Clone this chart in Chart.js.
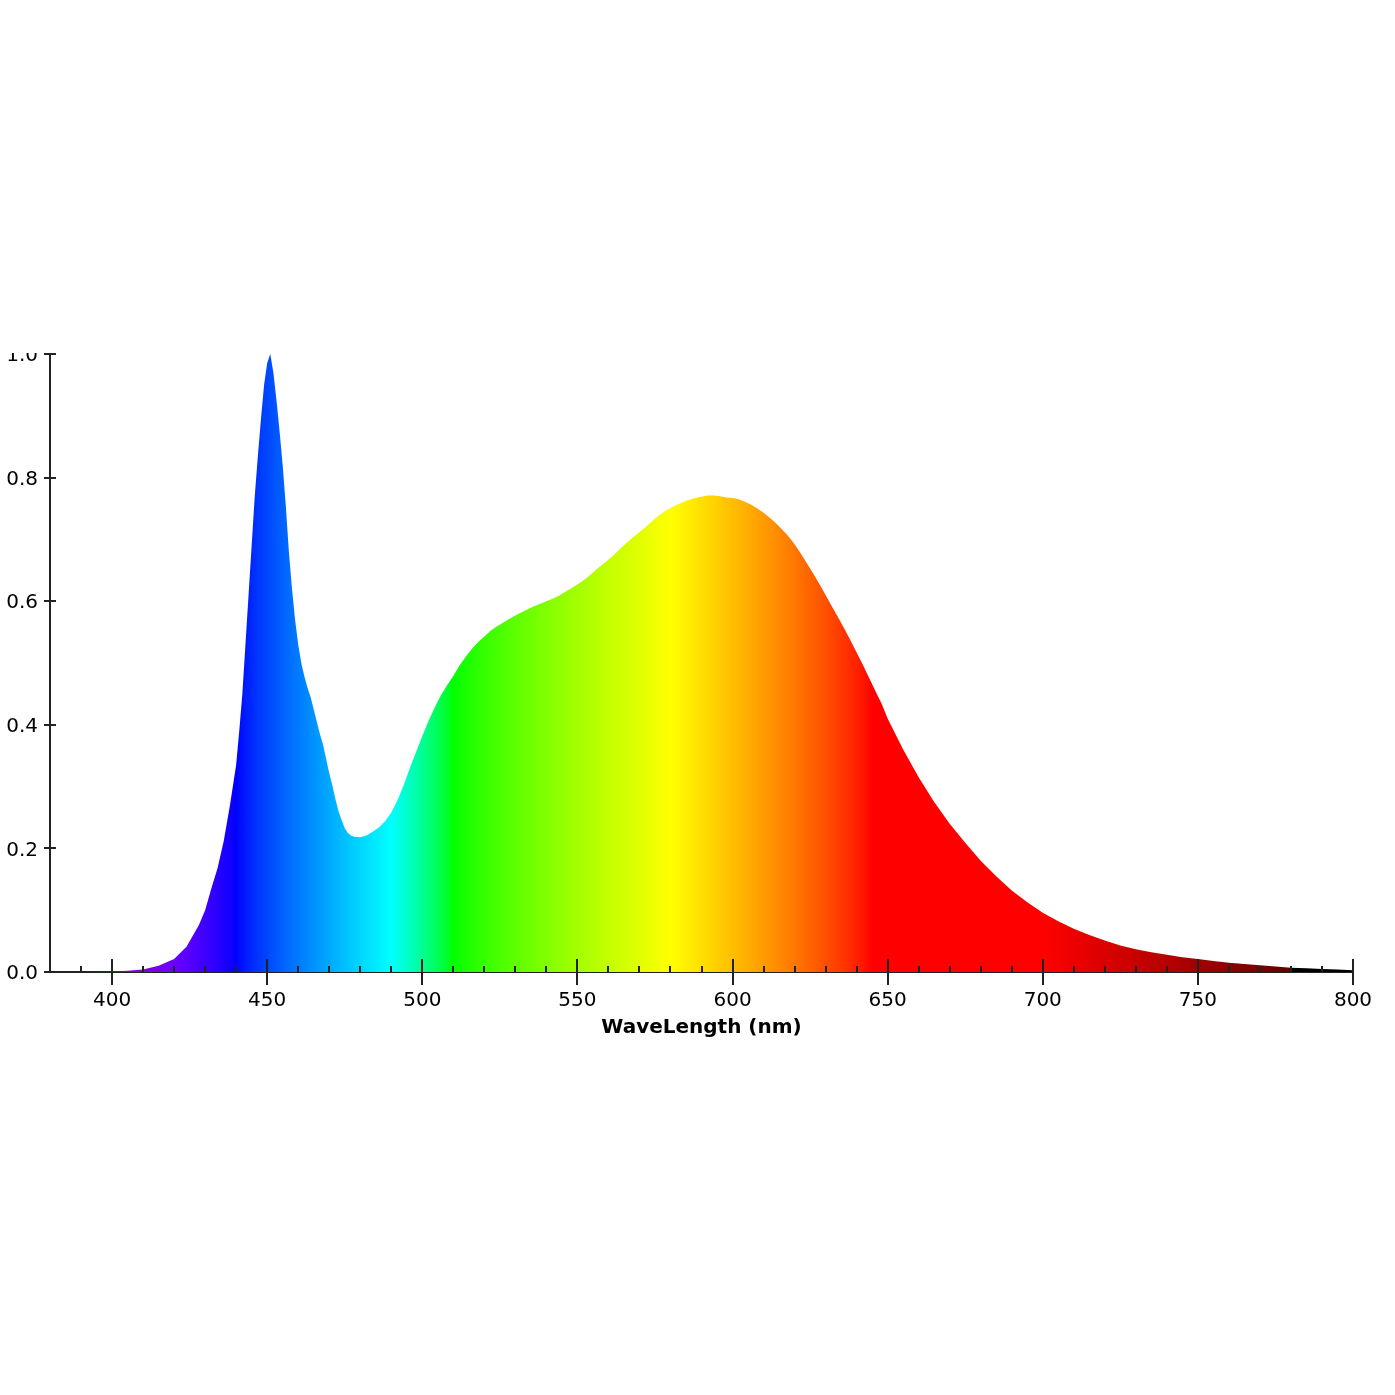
<!DOCTYPE html>
<html>
<head>
<meta charset="utf-8">
<title>Spectrum</title>
<script src="https://cdn.jsdelivr.net/npm/chart.js@4.4.0/dist/chart.umd.min.js"></script>
<style>
  html, body { margin: 0; padding: 0; background: #fff; }
  body { width: 1395px; height: 1395px; position: relative; overflow: hidden; }
  #clip { position: absolute; left: 0; top: 353px; width: 1395px; height: 1042px; overflow: hidden; }
  #spectrumChart { display: block; margin-top: -353px; }
</style>
</head>
<body>
<div id="clip">
  <canvas id="spectrumChart" width="1395" height="1052"></canvas>
</div>
<script>
// Spectrum data
const wavelengths = [
  380, 390, 400, 405, 410, 415, 420, 424, 428, 430, 432, 434, 436, 438,
  440, 441, 442, 443, 444, 445, 446, 447, 448, 449, 450, 451, 452, 453, 454,
  455, 456, 457, 458, 459, 460, 461, 462, 463, 464, 465, 466, 467, 468, 469,
  470, 471, 472, 473, 474, 475, 476, 477, 478, 480, 482, 484, 486, 488,
  490, 492, 494, 496, 498, 500, 502, 504, 506, 508, 510, 512, 514, 516, 518,
  520, 522, 524, 526, 528, 530, 532, 534, 536, 538, 540, 542, 544, 546, 548,
  550, 552, 554, 556, 558, 560, 562, 564, 566, 568, 570, 572, 574, 576, 578,
  580, 582, 584, 586, 588, 590, 592, 594, 596, 598, 600, 602, 604, 606, 608,
  610, 612, 614, 616, 618, 620, 622, 624, 626, 628, 630, 632, 634, 636, 638,
  640, 642, 644, 646, 648, 650, 655, 660, 665, 670, 675, 680, 685, 690, 695,
  700, 705, 710, 715, 720, 725, 730, 735, 740, 745, 750, 755, 760, 765, 770,
  775, 780, 785, 790, 795, 800
];
const intensity = [
  0, 0, 0.001, 0.002, 0.004, 0.010, 0.021, 0.041, 0.076, 0.100, 0.135, 0.168, 0.212, 0.270,
  0.335, 0.390, 0.450, 0.530, 0.610, 0.690, 0.770, 0.835, 0.895, 0.950, 0.985, 1.000, 0.970, 0.925, 0.875,
  0.820, 0.755, 0.680, 0.620, 0.570, 0.530, 0.500, 0.478, 0.460, 0.445, 0.425, 0.405, 0.385, 0.368, 0.345,
  0.322, 0.302, 0.280, 0.260, 0.246, 0.233, 0.225, 0.221, 0.219, 0.218, 0.221, 0.227, 0.234, 0.244,
  0.258, 0.278, 0.302, 0.330, 0.356, 0.382, 0.406, 0.428, 0.448, 0.464, 0.479, 0.496, 0.510, 0.523, 0.534,
  0.543, 0.552, 0.559, 0.565, 0.571, 0.577, 0.582, 0.587, 0.592, 0.596, 0.600, 0.604, 0.609, 0.615, 0.621,
  0.627, 0.634, 0.642, 0.651, 0.659, 0.667, 0.676, 0.686, 0.695, 0.704, 0.712, 0.720, 0.729, 0.738, 0.745,
  0.751, 0.756, 0.760, 0.764, 0.767, 0.769, 0.771, 0.771, 0.770, 0.768, 0.767, 0.765, 0.761, 0.756, 0.750,
  0.743, 0.735, 0.726, 0.716, 0.705, 0.692, 0.677, 0.661, 0.645, 0.628, 0.610, 0.592, 0.574, 0.556, 0.537,
  0.517, 0.497, 0.476, 0.455, 0.435, 0.410, 0.360, 0.315, 0.275, 0.240, 0.209, 0.180, 0.155, 0.132, 0.113,
  0.096, 0.082, 0.070, 0.060, 0.051, 0.043, 0.037, 0.032, 0.028, 0.024, 0.021, 0.018, 0.015, 0.013, 0.011,
  0.009, 0.007, 0.006, 0.005, 0.004, 0.003
];
const xTickLabels = [400, 450, 500, 550, 600, 650, 700, 750, 800];
const yTickLabels = [0, 0.2, 0.4, 0.6, 0.8, 1.0];

const X_MIN = 380, X_MAX = 800;
const FONT = '"DejaVu Sans", "Liberation Sans", sans-serif';
const AXIS_COLOR = '#222';

// wavelength (nm) -> visible colour, classic Bruton approximation
function waveColor(w) {
    let r = 0, g = 0, b = 0;
    if (w < 440) { r = -(w - 440) / 60; b = 1; }
    else if (w < 490) { g = (w - 440) / 50; b = 1; }
    else if (w < 510) { g = 1; b = -(w - 510) / 20; }
    else if (w < 580) { r = (w - 510) / 70; g = 1; }
    else if (w < 645) { r = 1; g = -(w - 645) / 65; }
    else if (w <= 780) { r = 1; }
    let f = 1;
    if (w < 420) f = 0.3 + 0.7 * (w - 380) / 40;
    else if (w > 700) f = 0.3 + 0.7 * (780 - w) / 80;
    const c = v => v <= 0 ? 0 : Math.round(255 * Math.pow(v * f, 0.8));
    return 'rgb(' + c(r) + ',' + c(g) + ',' + c(b) + ')';
}

let cachedGradient = null;
function spectrumFill(context) {
    const chart = context.chart;
    const area = chart.chartArea;
    if (!area) return null;
    if (cachedGradient) return cachedGradient;
    const xs = chart.scales.x;
    const x0 = xs.getPixelForValue(X_MIN);
    const x1 = xs.getPixelForValue(X_MAX);
    const grad = chart.ctx.createLinearGradient(x0, 0, x1, 0);
    for (let w = X_MIN; w <= X_MAX; w += 1) {
        grad.addColorStop((w - X_MIN) / (X_MAX - X_MIN), waveColor(w));
        if (w === 780) grad.addColorStop((780.5 - X_MIN) / (X_MAX - X_MIN), 'rgb(0,0,0)');
    }
    cachedGradient = grad;
    return grad;
}

// tick marks drawn on both sides of the axes, like the original plot
const tickMarks = {
    id: 'tickMarks',
    afterDatasetsDraw(chart) {
        const ctx = chart.ctx;
        const xs = chart.scales.x, ys = chart.scales.y;
        const y0 = ys.getPixelForValue(0);
        const xLeft = xs.getPixelForValue(X_MIN);
        ctx.save();
        ctx.strokeStyle = AXIS_COLOR;
        ctx.lineWidth = 2;
        ctx.beginPath();
        xTickLabels.forEach(v => {
            const px = Math.round(xs.getPixelForValue(v));
            ctx.moveTo(px, y0 - 13);
            ctx.lineTo(px, y0 + 13);
        });
        for (let v = X_MIN + 10; v < X_MAX; v += 10) {
            if (v % 50 === 0) continue;
            const px = Math.round(xs.getPixelForValue(v));
            ctx.moveTo(px, y0 - 6);
            ctx.lineTo(px, y0);
        }
        yTickLabels.forEach(v => {
            const py = Math.round(ys.getPixelForValue(v));
            ctx.moveTo(xLeft - 6, py);
            ctx.lineTo(v === 0 ? xLeft : xLeft + 6, py);
        });
        ctx.stroke();
        ctx.restore();
    }
};

const points = wavelengths.map((w, i) => ({ x: w, y: intensity[i] }));

const spectrumCtx = document.getElementById('spectrumChart').getContext('2d');
new Chart(spectrumCtx, {
    type: 'line',
    data: {
        datasets: [{
            label: 'Spectrum',
            data: points,
            fill: 'origin',
            backgroundColor: spectrumFill,
            borderWidth: 0,
            borderColor: 'rgba(0,0,0,0)',
            pointRadius: 0,
            tension: 0
        }]
    },
    options: {
        responsive: false,
        devicePixelRatio: 1,
        animation: false,
        layout: { padding: { top: 354, right: 42, left: 0, bottom: 0 } },
        plugins: {
            legend: { display: false },
            tooltip: { enabled: false }
        },
        scales: {
            x: {
                type: 'linear',
                min: X_MIN,
                max: X_MAX,
                afterBuildTicks: scale => { scale.ticks = xTickLabels.map(v => ({ value: v })); },
                afterFit: scale => { scale.height = 80; },
                grid: { display: false, drawTicks: false },
                border: { display: true, color: AXIS_COLOR, width: 2 },
                ticks: {
                    padding: 17,
                    maxRotation: 0,
                    color: '#000',
                    font: { family: FONT, size: 20 }
                },
                title: {
                    display: true,
                    text: 'WaveLength (nm)',
                    color: '#000',
                    font: { family: FONT, size: 20, weight: 'bold' },
                    padding: { top: 0, bottom: 12 }
                }
            },
            y: {
                min: 0,
                max: 1,
                afterBuildTicks: scale => { scale.ticks = yTickLabels.map(v => ({ value: v })); },
                afterFit: scale => { scale.width = 50; },
                grid: { display: false, drawTicks: false },
                border: { display: true, color: AXIS_COLOR, width: 2 },
                ticks: {
                    padding: 12,
                    labelOffset: 2,
                    color: '#000',
                    font: { family: FONT, size: 20 },
                    callback: value => Number(value).toFixed(1)
                }
            }
        }
    },
    plugins: [tickMarks]
});
</script>
</body>
</html>
